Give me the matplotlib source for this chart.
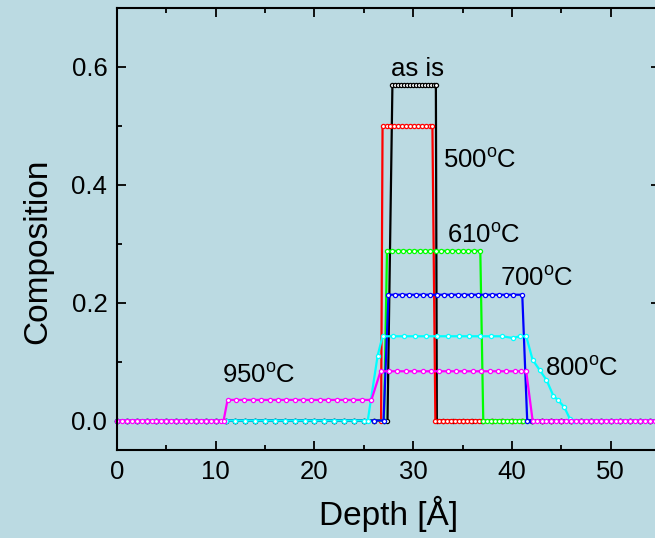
import matplotlib
matplotlib.use("Agg")
import matplotlib.pyplot as plt
from matplotlib.ticker import MultipleLocator, FormatStrFormatter

plt.rcParams['font.family'] = ['Liberation Sans', 'DejaVu Sans']
plt.rcParams['mathtext.fontset'] = 'custom'
plt.rcParams['mathtext.rm'] = 'Liberation Sans'

# depth profiles (depth in Angstrom, composition)
as_is_x = [0, 1, 2, 3, 4, 5, 6, 7, 8, 9, 10, 11, 12, 13, 14, 15, 16, 17, 18, 19,
           20, 21, 22, 23, 24, 25, 26, 27, 27.4,
           27.9, 28.2, 28.5, 28.8, 29.1, 29.4, 29.7, 30.0, 30.3, 30.6, 30.9, 31.2,
           31.5, 31.8, 32.1, 32.3,
           32.4, 33, 34, 35, 36, 37, 38, 39, 40, 41, 42, 43, 44, 45, 46, 47, 48, 49,
           50, 51, 52, 53, 54, 55]
as_is_y = [0.0] * 29 + [0.57] * 16 + [0.0] * 24

t500_x = [0, 1, 2, 3, 4, 5, 6, 7, 8, 9, 10, 11, 12, 13, 14, 15, 16, 17, 18, 19,
          20, 21, 22, 23, 24, 25, 26, 26.75,
          26.9, 27.3, 27.7, 28.1, 28.5, 28.9, 29.3, 29.7, 30.1, 30.5, 30.9, 31.3,
          31.7, 31.95,
          32.25, 32.65, 33.05, 33.45, 33.85, 34.25, 34.65, 35.05, 35.45, 35.85,
          36.25, 36.65, 37.05, 38, 39, 40, 41, 42, 43, 44, 45, 46, 47, 48, 49, 50,
          51, 52, 53, 54, 55]
t500_y = [0.0] * 28 + [0.50] * 14 + [0.0] * 31

t610_x = [0, 1, 2, 3, 4, 5, 6, 7, 8, 9, 10, 11, 12, 13, 14, 15, 16, 17, 18, 19,
          20, 21, 22, 23, 24, 25, 26, 27.05,
          27.35, 27.9, 28.45, 29.0, 29.55, 30.1, 30.65, 31.2, 31.75, 32.3, 32.85,
          33.4, 33.95, 34.5, 35.05, 35.6, 36.15, 36.8,
          37.1, 37.5, 37.9, 38.3, 38.7, 39.1, 39.5, 39.9, 40.3, 40.7, 41.1, 41.5,
          42, 43, 44, 45, 46, 47, 48, 49, 50, 51, 52, 53, 54, 55]
t610_y = [0.0] * 28 + [0.288] * 18 + [0.0] * 26

t700_x = [0, 1, 2, 3, 4, 5, 6, 7, 8, 9, 10, 11, 12, 13, 14, 15, 16, 17, 18, 19,
          20, 21, 22, 23, 24, 25, 26, 27,
          27.5, 28.2, 28.9, 29.6, 30.3, 31.0, 31.7, 32.4, 33.1, 33.8, 34.5, 35.2,
          35.9, 36.6, 37.3, 38.0, 38.7, 39.4, 40.1, 41.05,
          41.55, 42, 43, 44, 45, 46, 47, 48, 49, 50, 51, 52, 53, 54, 55]
t700_y = [0.0] * 28 + [0.2135] * 20 + [0.0] * 15

t800_x = [0, 1, 2, 3, 4, 5, 6, 7, 8, 9, 10, 11, 12, 13, 14, 15, 16, 17, 18, 19,
          20, 21, 22, 23, 24, 25, 25.4,
          26.4,
          26.9, 28.0, 29.1, 30.2, 31.3, 32.4, 33.5, 34.6, 35.7, 36.8, 37.9, 39.0,
          40.1, 40.8, 41.45,
          42.1, 42.8, 43.5, 44.2, 44.7, 45.3, 45.9,
          46.3, 47, 48, 49, 50, 51, 52, 53, 54, 55]
t800_y = ([0.0] * 27 + [0.11]
          + [0.143] * 12 + [0.140, 0.143, 0.143]
          + [0.103, 0.086, 0.069, 0.042, 0.034, 0.023, 0.002]
          + [0.0] * 10)

t950_x = [0, 0.5, 1, 1.5, 2, 2.5, 3, 3.5, 4, 4.5, 5, 5.5, 6, 6.5, 7, 7.5, 8, 8.5,
          9, 9.5, 10, 10.5, 10.8,
          11.2, 12.05, 12.9, 13.75, 14.6, 15.45, 16.3, 17.15, 18.0, 18.85, 19.7,
          20.55, 21.4, 22.25, 23.1, 23.95, 24.8, 25.77,
          26.7, 27.55, 28.4, 29.25, 30.1, 30.95, 31.8, 32.65, 33.5, 34.35, 35.2,
          36.05, 36.9, 37.75, 38.6, 39.45, 40.3, 40.9, 41.45,
          42.1, 42.5, 43, 43.5, 44, 44.5, 45, 45.5, 46, 46.5, 47, 47.5, 48, 48.5,
          49, 49.5, 50, 50.5, 51, 51.5, 52, 52.5, 53, 53.5, 54, 54.5, 55]
t950_y = [0.0] * 23 + [0.035] * 18 + [0.0836] * 19 + [0.0] * 27

series = [
    (as_is_x, as_is_y, 'black'),
    (t500_x, t500_y, '#ff0000'),
    (t610_x, t610_y, '#00ff00'),
    (t700_x, t700_y, '#0000ff'),
    (t800_x, t800_y, '#00ffff'),
    (t950_x, t950_y, '#ff00ff'),
]

labels = [
    ('as is', 27.8, 0.597),
    (r'500$^{\mathrm{o}}$C', 33.0, 0.441),
    (r'610$^{\mathrm{o}}$C', 33.4, 0.314),
    (r'700$^{\mathrm{o}}$C', 38.8, 0.241),
    (r'800$^{\mathrm{o}}$C', 43.4, 0.088),
    (r'950$^{\mathrm{o}}$C', 10.6, 0.076),
]

bg = '#bbdae2'
fig = plt.figure(figsize=(6.55, 5.38), dpi=100, facecolor=bg)
ax = fig.add_axes([0.1786, 0.1636, 0.829, 0.8214])
ax.set_facecolor(bg)

for x, y, c in series:
    ax.plot(x, y, color=c, lw=1.6, marker='o', ms=3.0, mfc='white',
            mec=c, mew=0.9, clip_on=False)

for txt, x, y in labels:
    ax.text(x, y, txt, fontsize=18.5, ha='left', va='center')

ax.set_xlim(0, 55)
ax.set_ylim(-0.05, 0.7)
ax.xaxis.set_major_locator(MultipleLocator(10))
ax.xaxis.set_minor_locator(MultipleLocator(5))
ax.yaxis.set_major_locator(MultipleLocator(0.2))
ax.yaxis.set_minor_locator(MultipleLocator(0.1))
ax.yaxis.set_major_formatter(FormatStrFormatter('%.1f'))

ax.tick_params(which='both', direction='in', top=True, right=True, width=1.3)
ax.tick_params(which='major', length=6.5, labelsize=18.5, pad=7)
ax.tick_params(which='minor', length=3.5)
for s in ax.spines.values():
    s.set_linewidth(1.5)

ax.set_xlabel('Depth [Å]', fontsize=24, labelpad=9)
ax.set_ylabel('Composition', fontsize=24)
ax.yaxis.set_label_coords(-0.118, 0.45)

fig.savefig('out.png', dpi=100, facecolor=bg)
